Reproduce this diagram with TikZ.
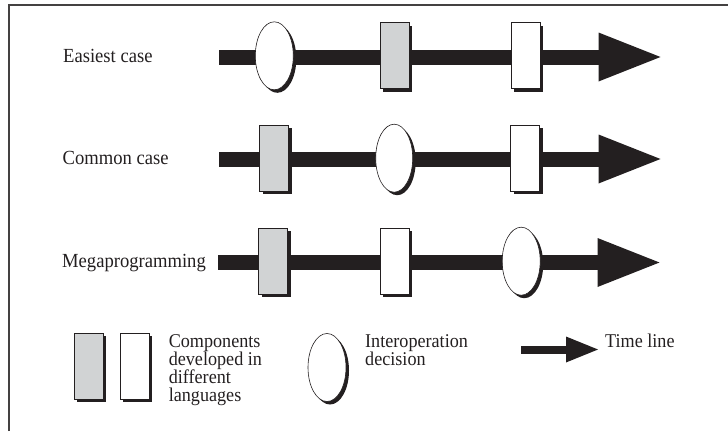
\documentclass[tikz,border=0pt]{standalone}
\usepackage{fontspec}
\setmainfont{Liberation Serif}
\newfontfamily\casefont[FakeStretch=0.93]{Liberation Serif}
\usepackage{xcolor}
\usetikzlibrary{arrows.meta}
\usetikzlibrary{shapes.geometric}
\usetikzlibrary{shadows}

\definecolor{ink}{RGB}{35,31,32}
\definecolor{langgray}{RGB}{209,211,212}

\begin{document}
\begin{tikzpicture}
[every node/.style={inner sep=0pt},
 shadowed/.style={drop shadow={shadow xshift=3pt, shadow yshift=-3pt, fill=ink, opacity=1}},
 comp/.style={rectangle, minimum width=29pt, minimum height=66pt, draw=ink, line width=0.6pt, shadowed},
 langA/.style={comp, fill=langgray},
 langB/.style={comp, fill=white},
 decision/.style={ellipse, minimum width=38pt, minimum height=68pt, draw=ink, line width=0.6pt, fill=white, shadowed},
 timeline/.style={line width=15pt, color=ink, -{Triangle[length=62pt, width=49pt, line width=0pt]}},
 keyline/.style={line width=8pt, color=ink, -{Triangle[length=32pt, width=26pt, line width=0pt]}},
 casetext/.style={anchor=base west, text=ink, font=\casefont\fontsize{20}{24}\selectfont},
 keytext/.style={anchor=north west, align=left, text=ink, font=\casefont\fontsize{19.5}{18}\selectfont}]
\useasboundingbox (0pt, 0pt) rectangle (728pt, -431pt);
% frame, cut off at the right and bottom
\draw [line width=1.2pt, color=ink!85] (9pt, -431pt) -- (9pt, -5pt) -- (728pt, -5pt);
% the three time lines
\coordinate (a1) at (219pt, -57pt);
\coordinate (b1) at (660.5pt, -57pt);
\coordinate (a2) at (219pt, -159pt);
\coordinate (b2) at (660.5pt, -159pt);
\coordinate (a3) at (218pt, -262.5pt);
\coordinate (b3) at (659.5pt, -262.5pt);
\draw [timeline] (a1) to (b1);
\draw [timeline] (a2) to (b2);
\draw [timeline] (a3) to (b3);
\node (1) [casetext] at (63pt, -62pt) {Easiest case};
\node (2) [casetext] at (62.5pt, -164pt) {Common case};
\node (3) [casetext] at (62pt, -267.5pt) {Megaprogramming};
\node (4) [decision] at (274.3pt, -55.8pt) {};
\node (5) [langA] at (394.6pt, -55.5pt) {};
\node (6) [langB] at (525.5pt, -55.5pt) {};
\node (7) [langA] at (274.2pt, -157.8pt) {};
\node (8) [decision, minimum width=37pt] at (394.2pt, -158.2pt) {};
\node (9) [langB] at (525.2pt, -157.8pt) {};
\node (10) [langA] at (273.2pt, -261.2pt) {};
\node (11) [langB] at (394.6pt, -261.2pt) {};
\node (12) [decision] at (521.2pt, -261.2pt) {};
% legend
\node (13) [langA] at (88.3pt, -366pt) {};
\node (14) [langB] at (134.9pt, -366pt) {};
\node (15) [keytext] at (168.6pt, -334pt) {Components\\developed in\\different\\languages};
\node (16) [decision] at (327pt, -367.5pt) {};
\node (17) [keytext] at (365pt, -334pt) {Interoperation\\decision};
\coordinate (a4) at (521pt, -349.5pt);
\coordinate (b4) at (598pt, -349.5pt);
\draw [keyline] (a4) to (b4);
\node (18) [keytext] at (605pt, -334pt) {Time line};
\end{tikzpicture}
\end{document}
